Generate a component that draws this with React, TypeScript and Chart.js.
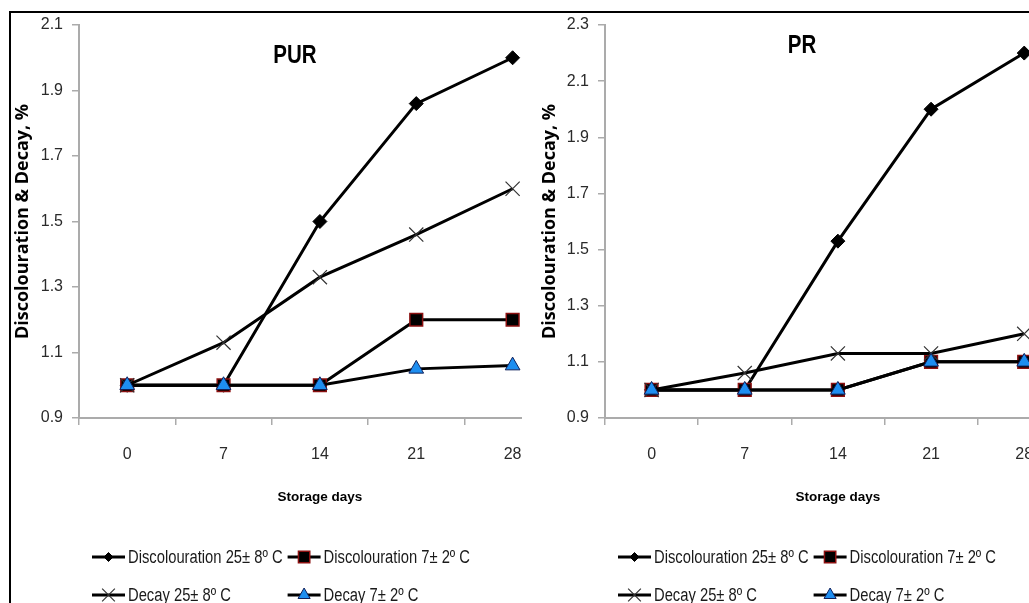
import React, { useEffect, useRef } from 'react';
import { Chart, registerables } from 'chart.js';

Chart.register(...registerables);

// ---------- data ----------
const storageDays = ['0', '7', '14', '21', '28'];
const seriesLabels = ['Discolouration 25± 8º C', 'Discolouration 7± 2º C', 'Decay 25± 8º C', 'Decay 7± 2º C'];

const purDiscolouration25 = [1.0, 1.0, 1.5, 1.86, 2.0];
const purDiscolouration7 = [1.0, 1.0, 1.0, 1.2, 1.2];
const purDecay25 = [1.0, 1.13, 1.33, 1.46, 1.6];
const purDecay7 = [1.0, 1.0, 1.0, 1.05, 1.06];
const purYTicks = [0.9, 1.1, 1.3, 1.5, 1.7, 1.9, 2.1];

const prDiscolouration25 = [1.0, 1.0, 1.53, 2.0, 2.2];
const prDiscolouration7 = [1.0, 1.0, 1.0, 1.1, 1.1];
const prDecay25 = [1.0, 1.06, 1.13, 1.13, 1.2];
const prDecay7 = [1.0, 1.0, 1.0, 1.1, 1.1];
const prYTicks = [0.9, 1.1, 1.3, 1.5, 1.7, 1.9, 2.1, 2.3];

const xTitle = 'Storage days';
const yTitle = 'Discolouration & Decay, %';

// ---------- styles ----------
const SANS = '"Liberation Sans", Arial, sans-serif';
const AXIS_GRAY = '#ababab';
const NARROW_X = 0.82; // horizontal squeeze used for legend / panel title text

type Marker = { style: string; r: number; fill: string; stroke: string; lw: number };
const legendMarkers: Marker[] = [
  { style: 'rectRot', r: 4.5, fill: '#000', stroke: '#000', lw: 1 },
  { style: 'rect', r: 8, fill: '#000', stroke: '#8b1010', lw: 1.5 },
  { style: 'crossRot', r: 9, fill: '#000', stroke: '#333', lw: 1.2 },
  { style: 'triangle', r: 7, fill: '#1e8ef0', stroke: '#10205a', lw: 1 },
];

function drawMarker(ctx: CanvasRenderingContext2D, m: Marker, x: number, y: number) {
  const r = m.r;
  ctx.save();
  ctx.beginPath();
  ctx.fillStyle = m.fill;
  ctx.strokeStyle = m.stroke;
  ctx.lineWidth = m.lw;
  if (m.style === 'rectRot') {
    ctx.moveTo(x, y - r);
    ctx.lineTo(x + r, y);
    ctx.lineTo(x, y + r);
    ctx.lineTo(x - r, y);
    ctx.closePath();
    ctx.fill();
    ctx.stroke();
  } else if (m.style === 'rect') {
    const s = r * Math.SQRT1_2;
    ctx.rect(x - s, y - s, 2 * s, 2 * s);
    ctx.fill();
    ctx.stroke();
  } else if (m.style === 'crossRot') {
    const d = r * Math.SQRT1_2;
    ctx.moveTo(x - d, y - d);
    ctx.lineTo(x + d, y + d);
    ctx.moveTo(x - d, y + d);
    ctx.lineTo(x + d, y - d);
    ctx.stroke();
  } else if (m.style === 'triangle') {
    ctx.moveTo(x, y - r);
    ctx.lineTo(x + r * 0.866, y + r * 0.5);
    ctx.lineTo(x - r * 0.866, y + r * 0.5);
    ctx.closePath();
    ctx.fill();
    ctx.stroke();
  }
  ctx.restore();
}

function fillNarrow(ctx: CanvasRenderingContext2D, text: string, x: number, y: number) {
  ctx.save();
  ctx.translate(x, y);
  ctx.scale(NARROW_X, 1);
  ctx.fillText(text, 0, 0);
  ctx.restore();
}

const panelDecor = {
  id: 'panelDecor',
  afterDraw(chart: any, _args: any, opts: any) {
    const { ctx, chartArea } = chart;
    ctx.save();
    // panel title inside plot area
    ctx.font = `bold 25px ${SANS}`;
    ctx.fillStyle = '#000';
    ctx.textAlign = 'center';
    ctx.textBaseline = 'alphabetic';
    fillNarrow(ctx, opts.title, chartArea.left + opts.titleDx, chartArea.top + opts.titleDy);

    // legend (Excel-like two-column grid)
    ctx.font = `18px ${SANS}`;
    ctx.textAlign = 'left';
    ctx.textBaseline = 'middle';
    const ds = chart.data.datasets;
    const lineLen = 33;
    const gap = 3;
    const x0 = chartArea.left + opts.legendDx;
    const w0 = ctx.measureText(ds[0].label).width * NARROW_X;
    const col2 = x0 + lineLen + gap + w0 + 5;
    const r1 = chartArea.bottom + opts.row1Dy;
    const r2 = chartArea.bottom + opts.row2Dy;
    const pos = [
      [x0, r1],
      [col2, r1],
      [x0, r2],
      [col2, r2],
    ];
    ds.forEach((d: any, i: number) => {
      const [lx, ly] = pos[i];
      ctx.beginPath();
      ctx.strokeStyle = '#000';
      ctx.lineWidth = 3;
      ctx.moveTo(lx, ly);
      ctx.lineTo(lx + lineLen, ly);
      ctx.stroke();
      drawMarker(ctx, legendMarkers[i], lx + lineLen / 2, ly);
      ctx.fillStyle = '#1a1a1a';
      fillNarrow(ctx, d.label, lx + lineLen + gap, ly + 1);
    });
    ctx.restore();
  },
};

function makeDatasets(d25: number[], d7: number[], c25: number[], c7: number[]) {
  const common = { borderColor: '#000', borderWidth: 3, tension: 0, fill: false };
  return [
    {
      ...common,
      label: seriesLabels[0],
      data: d25,
      pointStyle: 'rectRot',
      pointRadius: 7,
      pointBackgroundColor: '#000',
      pointBorderColor: '#000',
      pointBorderWidth: 1,
      order: 3,
    },
    {
      ...common,
      label: seriesLabels[1],
      data: d7,
      pointStyle: 'rect',
      pointRadius: 9,
      pointBackgroundColor: '#000',
      pointBorderColor: '#8b1010',
      pointBorderWidth: 1.5,
      order: 2,
    },
    {
      ...common,
      label: seriesLabels[2],
      data: c25,
      pointStyle: 'crossRot',
      pointRadius: 10,
      pointBackgroundColor: '#333',
      pointBorderColor: '#333',
      pointBorderWidth: 1.2,
      order: 1,
    },
    {
      ...common,
      label: seriesLabels[3],
      data: c7,
      pointStyle: 'triangle',
      pointRadius: 8.5,
      pointBackgroundColor: '#1e8ef0',
      pointBorderColor: '#10205a',
      pointBorderWidth: 1,
      order: 0,
    },
  ];
}

const CANVAS_H = 660;
const PLOT_TOP = 24;
const PLOT_BOTTOM = 417;
const X_HEIGHT = 93;

function makeConfig(p: {
  datasets: any[];
  yTicks: number[];
  yWidth: number;
  yTitlePad: number;
  padRight: number;
  title: string;
  titleDx: number;
  titleDy: number;
}): any {
  return {
    type: 'line',
    data: { labels: storageDays, datasets: p.datasets },
    plugins: [panelDecor],
    options: {
      responsive: false,
      animation: false,
      events: [],
      layout: {
        padding: { left: 0, top: PLOT_TOP, right: p.padRight, bottom: CANVAS_H - PLOT_BOTTOM - X_HEIGHT },
      },
      plugins: {
        legend: { display: false },
        tooltip: { enabled: false },
        title: { display: false },
        panelDecor: {
          title: p.title,
          titleDx: p.titleDx,
          titleDy: p.titleDy,
          legendDx: 13,
          row1Dy: 139,
          row2Dy: 177,
        },
      },
      scales: {
        x: {
          type: 'category',
          offset: true,
          grid: {
            offset: true,
            drawOnChartArea: false,
            drawTicks: true,
            tickLength: 7,
            color: AXIS_GRAY,
            lineWidth: 1.5,
          },
          border: { color: AXIS_GRAY, width: 2 },
          ticks: { font: { family: SANS, size: 16 }, color: '#2a2a2a', padding: 20 },
          title: {
            display: true,
            text: xTitle,
            color: '#000',
            font: { family: SANS, size: 13.5, weight: 'bold' },
            padding: { top: 4, bottom: 6 },
          },
          afterFit: (s: any) => {
            s.height = X_HEIGHT;
          },
        },
        y: {
          type: 'linear',
          min: p.yTicks[0],
          max: p.yTicks[p.yTicks.length - 1],
          afterBuildTicks: (s: any) => {
            s.ticks = p.yTicks.map((v) => ({ value: v }));
          },
          grid: {
            drawOnChartArea: false,
            drawTicks: true,
            tickLength: 7,
            color: AXIS_GRAY,
            lineWidth: 1.5,
          },
          border: { color: AXIS_GRAY, width: 2 },
          ticks: {
            font: { family: SANS, size: 16 },
            color: '#2a2a2a',
            padding: 9,
            callback: (v: any) => Number(v).toFixed(1),
          },
          title: {
            display: true,
            text: yTitle,
            color: '#000',
            font: { family: '"Open Sans", "DejaVu Sans", sans-serif', size: 18, weight: 'bold' },
            padding: { top: p.yTitlePad, bottom: 0 },
          },
          afterFit: (s: any) => {
            s.width = p.yWidth;
          },
        },
      },
    },
  };
}

export default function App() {
  const leftRef = useRef<HTMLCanvasElement | null>(null);
  const rightRef = useRef<HTMLCanvasElement | null>(null);

  useEffect(() => {
    const charts: Chart[] = [];
    if (leftRef.current) {
      charts.push(
        new Chart(
          leftRef.current,
          makeConfig({
            datasets: makeDatasets(purDiscolouration25, purDiscolouration7, purDecay25, purDecay7),
            yTicks: purYTicks,
            yWidth: 67,
            yTitlePad: 0,
            padRight: 11,
            title: 'PUR',
            titleDx: 216,
            titleDy: 38,
          })
        )
      );
    }
    if (rightRef.current) {
      charts.push(
        new Chart(
          rightRef.current,
          makeConfig({
            datasets: makeDatasets(prDiscolouration25, prDiscolouration7, prDecay25, prDecay7),
            yTicks: prYTicks,
            yWidth: 83,
            yTitlePad: 17,
            padRight: 10,
            title: 'PR',
            titleDx: 197,
            titleDy: 28,
          })
        )
      );
    }
    return () => charts.forEach((c) => c.destroy());
  }, []);

  return (
    <div
      style={{
        position: 'fixed',
        left: 0,
        top: 0,
        width: 1029,
        height: 603,
        overflow: 'hidden',
        background: '#fff',
      }}
    >
      <canvas
        ref={leftRef}
        width={560}
        height={CANVAS_H}
        style={{ position: 'absolute', left: 12, top: 1, display: 'block' }}
      />
      <canvas
        ref={rightRef}
        width={560}
        height={CANVAS_H}
        style={{ position: 'absolute', left: 522, top: 1, display: 'block', background: '#fff' }}
      />
      <div
        style={{
          position: 'absolute',
          left: 9,
          top: 11,
          width: 1100,
          height: 700,
          borderTop: '2px solid #000',
          borderLeft: '2px solid #000',
          boxSizing: 'border-box',
          pointerEvents: 'none',
        }}
      />
    </div>
  );
}
